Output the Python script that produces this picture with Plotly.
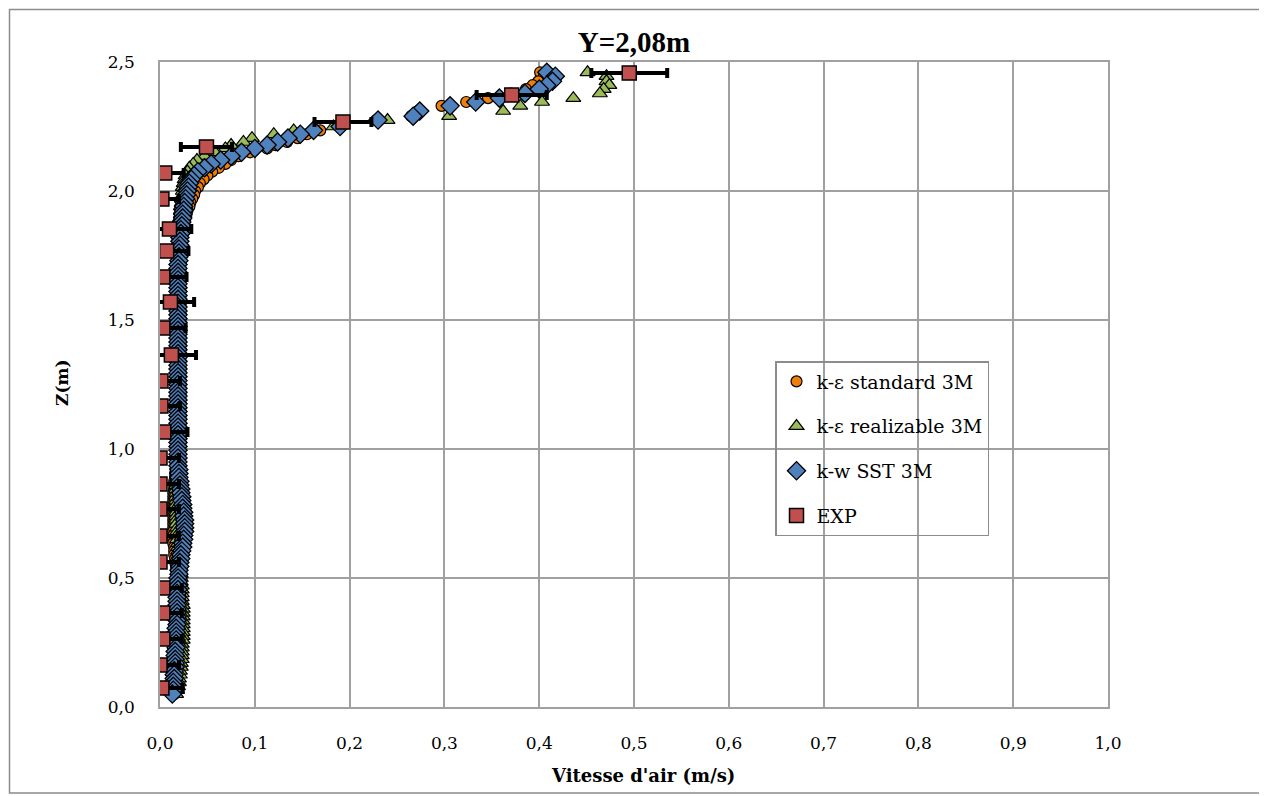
import plotly.graph_objects as go

# ---- data ----
z_cfd = [2.46, 2.445, 2.425, 2.41, 2.395, 2.378, 2.36, 2.345, 2.33, 2.31, 2.29, 2.275, 2.25, 2.235, 2.22,
         2.205, 2.19, 2.178, 2.165, 2.15, 2.135, 2.12, 2.105, 2.09, 2.075, 2.06, 2.045, 2.03, 2.015, 2.0,
         1.985, 1.97, 1.955, 1.94, 1.925, 1.91, 1.895, 1.88, 1.865, 1.85,
         1.835, 1.82, 1.805, 1.79, 1.775, 1.76, 1.745, 1.73, 1.715, 1.70,
         1.685, 1.67, 1.655, 1.64, 1.625, 1.61, 1.595, 1.58, 1.565, 1.55,
         1.535, 1.52, 1.505, 1.49, 1.475, 1.46, 1.445, 1.43, 1.415, 1.40,
         1.385, 1.37, 1.355, 1.34, 1.325, 1.31, 1.295, 1.28, 1.265, 1.25,
         1.235, 1.22, 1.205, 1.19, 1.175, 1.16, 1.145, 1.13, 1.115, 1.10,
         1.085, 1.07, 1.055, 1.04, 1.025, 1.01, 0.995, 0.98, 0.965, 0.95,
         0.935, 0.92, 0.905, 0.89, 0.875, 0.86, 0.845, 0.83, 0.815, 0.80,
         0.785, 0.77, 0.755, 0.74, 0.725, 0.71, 0.695, 0.68, 0.665, 0.65,
         0.635, 0.62, 0.605, 0.59, 0.575, 0.56, 0.545, 0.53, 0.515, 0.50,
         0.485, 0.47, 0.455, 0.44, 0.425, 0.41, 0.395, 0.38, 0.365, 0.35,
         0.335, 0.32, 0.305, 0.29, 0.275, 0.26, 0.245, 0.23, 0.215, 0.20,
         0.185, 0.17, 0.155, 0.14, 0.125, 0.11, 0.095, 0.08, 0.065, 0.05]

v_ke_standard = [0.401, 0.405, 0.399, 0.393, 0.386, 0.370, 0.346, 0.323, 0.297, 0.272, 0.265, 0.228, 0.190, 0.169, 0.155,
                 0.145, 0.134, 0.122, 0.113, 0.095, 0.083, 0.075, 0.069, 0.062, 0.055, 0.050, 0.046, 0.042, 0.040, 0.037,
                 0.036, 0.034, 0.032, 0.031, 0.029, 0.028, 0.027, 0.026, 0.025, 0.024,
                 0.024, 0.023, 0.023, 0.022, 0.022, 0.021, 0.021, 0.021, 0.020, 0.020,
                 0.020, 0.020, 0.020, 0.020, 0.020, 0.020, 0.020, 0.020, 0.020, 0.020,
                 0.020, 0.020, 0.020, 0.020, 0.020, 0.020, 0.020, 0.020, 0.020, 0.020,
                 0.020, 0.020, 0.020, 0.020, 0.020, 0.020, 0.020, 0.020, 0.020, 0.020,
                 0.020, 0.020, 0.020, 0.020, 0.020, 0.020, 0.020, 0.020, 0.020, 0.020,
                 0.020, 0.020, 0.020, 0.020, 0.020, 0.019, 0.019, 0.019, 0.018, 0.018,
                 0.017, 0.017, 0.016, 0.016, 0.015, 0.015, 0.015, 0.014, 0.014, 0.014,
                 0.014, 0.014, 0.014, 0.014, 0.014, 0.014, 0.014, 0.014, 0.014, 0.014,
                 0.014, 0.015, 0.015, 0.015, 0.016, 0.016, 0.017, 0.017, 0.018, 0.018,
                 0.018, 0.019, 0.019, 0.019, 0.019, 0.019, 0.019, 0.019, 0.019, 0.019,
                 0.019, 0.019, 0.019, 0.018, 0.018, 0.018, 0.018, 0.018, 0.017, 0.017,
                 0.017, 0.017, 0.016, 0.016, 0.016, 0.016, 0.015, 0.015, 0.015, 0.015]

v_ke_realizable = [0.451, 0.471, 0.471, 0.474, 0.468, 0.464, 0.436, 0.403, 0.380, 0.362, 0.305, 0.240, 0.183, 0.141, 0.120,
                   0.097, 0.088, 0.075, 0.069, 0.058, 0.047, 0.039, 0.035, 0.031, 0.029, 0.027, 0.026, 0.025, 0.024, 0.024,
                   0.024, 0.023, 0.023, 0.022, 0.022, 0.022, 0.021, 0.021, 0.021, 0.020,
                   0.020, 0.020, 0.020, 0.020, 0.020, 0.020, 0.020, 0.020, 0.020, 0.020,
                   0.020, 0.020, 0.020, 0.020, 0.020, 0.020, 0.020, 0.020, 0.020, 0.020,
                   0.020, 0.020, 0.020, 0.020, 0.020, 0.020, 0.020, 0.020, 0.020, 0.020,
                   0.020, 0.020, 0.020, 0.020, 0.020, 0.020, 0.020, 0.020, 0.020, 0.020,
                   0.020, 0.020, 0.020, 0.020, 0.020, 0.020, 0.020, 0.020, 0.020, 0.020,
                   0.020, 0.020, 0.020, 0.020, 0.020, 0.020, 0.019, 0.019, 0.019, 0.019,
                   0.018, 0.018, 0.018, 0.018, 0.017, 0.017, 0.017, 0.017, 0.017, 0.017,
                   0.017, 0.017, 0.017, 0.017, 0.017, 0.017, 0.018, 0.018, 0.018, 0.018,
                   0.019, 0.019, 0.019, 0.020, 0.020, 0.021, 0.021, 0.021, 0.022, 0.022,
                   0.022, 0.023, 0.023, 0.023, 0.023, 0.023, 0.024, 0.024, 0.024, 0.024,
                   0.024, 0.024, 0.024, 0.024, 0.024, 0.024, 0.023, 0.023, 0.023, 0.023,
                   0.023, 0.022, 0.022, 0.021, 0.021, 0.020, 0.020, 0.019, 0.018, 0.017]

v_kw_sst = [0.408, 0.417, 0.414, 0.408, 0.400, 0.385, 0.358, 0.333, 0.306, 0.274, 0.267, 0.230, 0.190, 0.162, 0.148,
            0.135, 0.124, 0.113, 0.100, 0.086, 0.075, 0.064, 0.054, 0.047, 0.040, 0.036, 0.033, 0.031, 0.030, 0.029,
            0.028, 0.027, 0.026, 0.025, 0.025, 0.024, 0.024, 0.023, 0.023, 0.022,
            0.022, 0.021, 0.021, 0.021, 0.020, 0.020, 0.020, 0.020, 0.019, 0.019,
            0.019, 0.019, 0.019, 0.019, 0.019, 0.019, 0.019, 0.019, 0.019, 0.019,
            0.019, 0.019, 0.019, 0.019, 0.019, 0.019, 0.019, 0.019, 0.019, 0.019,
            0.019, 0.019, 0.019, 0.019, 0.019, 0.019, 0.019, 0.019, 0.019, 0.019,
            0.019, 0.019, 0.019, 0.019, 0.019, 0.019, 0.019, 0.019, 0.019, 0.019,
            0.019, 0.019, 0.019, 0.019, 0.019, 0.019, 0.019, 0.019, 0.019, 0.019,
            0.019, 0.020, 0.020, 0.020, 0.021, 0.021, 0.022, 0.022, 0.023, 0.023,
            0.024, 0.024, 0.025, 0.025, 0.026, 0.026, 0.026, 0.026, 0.025, 0.025,
            0.024, 0.024, 0.023, 0.022, 0.022, 0.021, 0.021, 0.020, 0.020, 0.019,
            0.019, 0.019, 0.019, 0.018, 0.018, 0.018, 0.018, 0.018, 0.018, 0.018,
            0.018, 0.018, 0.017, 0.017, 0.017, 0.017, 0.017, 0.017, 0.016, 0.016,
            0.016, 0.016, 0.016, 0.015, 0.015, 0.015, 0.014, 0.014, 0.014, 0.013]

z_exp = [2.457, 2.372, 2.267, 2.171, 2.07, 1.969, 1.853, 1.767, 1.667, 1.57, 1.469, 1.364, 1.264,
         1.167, 1.066, 0.965, 0.864, 0.767, 0.663, 0.562, 0.461, 0.364, 0.264, 0.163, 0.074]
v_exp = [0.495, 0.371, 0.193, 0.049, 0.005, 0.002, 0.010, 0.007, 0.003, 0.011, 0.003, 0.012, 0.001,
         0.001, 0.004, 0.000, 0.000, 0.000, 0.000, 0.000, 0.003, 0.003, 0.003, 0.000, 0.002]
err_exp = [0.040, 0.037, 0.030, 0.027, 0.020, 0.018, 0.023, 0.023, 0.025, 0.025, 0.024, 0.026, 0.020,
           0.020, 0.025, 0.020, 0.020, 0.020, 0.020, 0.020, 0.020, 0.020, 0.020, 0.020, 0.022]

x_ticks = [0.0, 0.1, 0.2, 0.3, 0.4, 0.5, 0.6, 0.7, 0.8, 0.9, 1.0]
y_ticks = [0.0, 0.5, 1.0, 1.5, 2.0, 2.5]

SERIF = "DejaVu Serif"
GRID = "#a0a0a0"

# plot area in page pixels: x 160..1108, y 62..707 (page has 8px body margin)
PL, PR, PT, PB = 160, 1108, 62, 707
PW, PH = PR - PL, PB - PT

fig = go.Figure()
fig.add_trace(go.Scatter(x=v_ke_standard, y=z_cfd, mode="markers", name="k-ε standard 3M",
                         legendgroup="a",
                         marker=dict(symbol="circle", size=11, color="#F07F09",
                                     line=dict(color="black", width=1.2))))
fig.add_trace(go.Scatter(x=v_ke_realizable, y=z_cfd, mode="markers", name="k-ε realizable 3M",
                         legendgroup="b",
                         marker=dict(symbol="triangle-up", size=13, color="#9BBB59",
                                     line=dict(color="black", width=1.2))))
fig.add_trace(go.Scatter(x=v_kw_sst, y=z_cfd, mode="markers", name="k-w SST 3M",
                         legendgroup="c",
                         marker=dict(symbol="diamond", size=14, color="#4F81BD",
                                     line=dict(color="black", width=1.3))))
fig.add_trace(go.Scatter(x=v_exp, y=z_exp, mode="markers", name="EXP",
                         legendgroup="d",
                         error_x=dict(type="data", array=err_exp, visible=True,
                                      color="black", thickness=4, width=5),
                         marker=dict(symbol="square", size=14, color="#C0504D",
                                     line=dict(color="black", width=1.5))))

# outer chart border (kept inside the figure, which starts 8px into the page)
fig.add_shape(type="rect", xref="paper", yref="paper",
              x0=(9.5 - PL) / PW, x1=(1260 - PL) / PW,
              y0=(PB - 793) / PH, y1=(PB - 9.5) / PH,
              line=dict(color="#8c8c8c", width=1.5), fillcolor="rgba(0,0,0,0)", layer="below")

fig.add_annotation(text="<b>Vitesse d'air (m/s)</b>", xref="paper", yref="paper",
                   x=(643 - PL) / PW, y=(PB - 775) / PH, showarrow=False,
                   xanchor="center", yanchor="middle",
                   font=dict(family=SERIF, size=18, color="black"))
fig.add_annotation(text="<b>Z(m)</b>", xref="paper", yref="paper",
                   x=(62 - PL) / PW, y=(PB - 383) / PH, showarrow=False, textangle=-90,
                   xanchor="center", yanchor="middle",
                   font=dict(family=SERIF, size=17, color="black"))

fig.update_layout(
    width=1259, height=788,
    margin=dict(l=PL - 8, r=1259 + 8 - PR, t=PT - 8, b=788 + 8 - PB),
    paper_bgcolor="white", plot_bgcolor="white",
    separators=", ",
    title=dict(text="<b>Y=2,08m</b>", x=0.5, xref="paper", xanchor="center",
               y=1 - 34 / 788, yref="container", yanchor="middle",
               font=dict(family="Liberation Serif", size=29, color="black")),
    font=dict(family=SERIF, size=17, color="black"),
    showlegend=True,
    legend=dict(x=(775 - PL) / PW, y=(PB - 361) / PH, xanchor="left", yanchor="top",
                bgcolor="rgba(0,0,0,0)", bordercolor="#8c8c8c", borderwidth=1.5,
                font=dict(family=SERIF, size=19, color="black"),
                tracegroupgap=17, traceorder="grouped"),
    xaxis=dict(range=[0, 1], tickvals=x_ticks, tickformat=".1f", showgrid=True,
               gridcolor=GRID, gridwidth=1.5, showline=True, linecolor=GRID, linewidth=1.5,
               mirror=True, zeroline=False, ticks="", ticklabelstandoff=20,
               tickfont=dict(family=SERIF, size=17, color="black")),
    yaxis=dict(range=[0, 2.5], tickvals=y_ticks, tickformat=".1f", showgrid=True,
               gridcolor=GRID, gridwidth=1.5, showline=True, linecolor=GRID, linewidth=1.5,
               mirror=True, zeroline=False, ticks="", ticklabelstandoff=20,
               tickfont=dict(family=SERIF, size=17, color="black")),
)

fig.write_html("out.html")
